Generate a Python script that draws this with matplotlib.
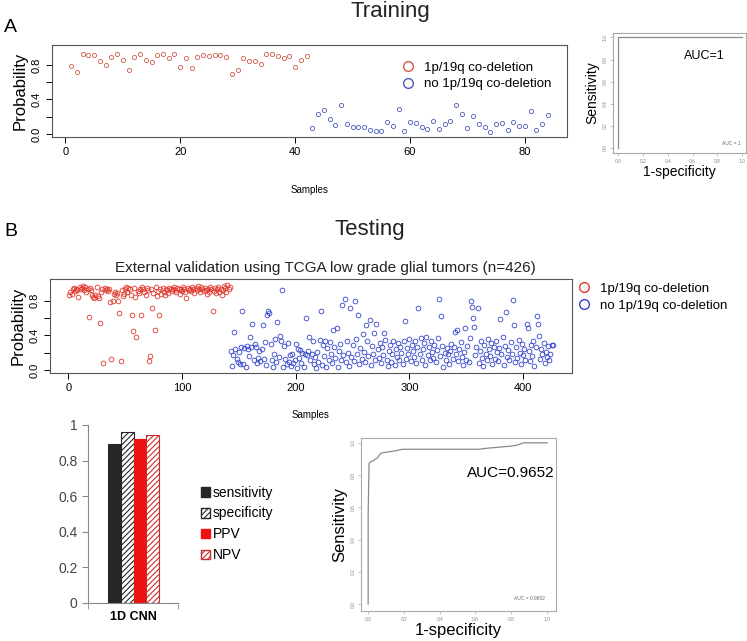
import numpy as np
import matplotlib
matplotlib.use("Agg")
import matplotlib.pyplot as plt
from matplotlib.patches import Patch
from matplotlib.lines import Line2D

plt.rcParams['font.family'] = ['Liberation Sans', 'DejaVu Sans']
plt.rcParams['hatch.linewidth'] = 0.8

# ---- data ----
# training: predicted probability per sample
train_pos = [0.79, 0.715, 0.925, 0.91, 0.92, 0.85, 0.80, 0.89, 0.93, 0.86,
             0.74, 0.89, 0.93, 0.855, 0.835, 0.92, 0.93, 0.885, 0.925, 0.775,
             0.875, 0.76, 0.89, 0.92, 0.905, 0.92, 0.91, 0.89, 0.70, 0.735,
             0.88, 0.845, 0.85, 0.815, 0.925, 0.93, 0.90, 0.88, 0.90, 0.775,
             0.86, 0.90]
train_neg = [0.07, 0.235, 0.28, 0.175, 0.105, 0.34, 0.11, 0.085, 0.08, 0.08,
             0.045, 0.04, 0.035, 0.14, 0.095, 0.29, 0.03, 0.14, 0.125, 0.075,
             0.06, 0.15, 0.055, 0.11, 0.155, 0.34, 0.23, 0.065, 0.21, 0.115,
             0.085, 0.025, 0.11, 0.13, 0.045, 0.14, 0.09, 0.09, 0.27, 0.045,
             0.11, 0.22]

# testing (TCGA, n=426)
test_pos = [0.87, 0.90, 0.88, 0.93, 0.95, 0.91, 0.94, 0.92, 0.84, 0.96,
            0.93, 0.95, 0.97, 0.92, 0.96, 0.90, 0.94, 0.61, 0.95, 0.92,
            0.87, 0.84, 0.83, 0.86, 0.96, 0.85, 0.83, 0.54, 0.90, 0.93,
            0.075, 0.95, 0.92, 0.93, 0.91, 0.94, 0.79, 0.13, 0.80, 0.88,
            0.90, 0.86, 0.89, 0.80, 0.66, 0.105, 0.92, 0.85, 0.88, 0.93,
            0.96, 0.90, 0.95, 0.94, 0.87, 0.64, 0.45, 0.95, 0.84, 0.38,
            0.91, 0.89, 0.94, 0.64, 0.96, 0.93, 0.90, 0.87, 0.95, 0.92,
            0.10, 0.16, 0.94, 0.71, 0.89, 0.46, 0.96, 0.85, 0.91, 0.64,
            0.93, 0.88, 0.95, 0.90, 0.86, 0.94, 0.92, 0.89, 0.95, 0.93,
            0.91, 0.94, 0.96, 0.92, 0.90, 0.95, 0.93, 0.88, 0.94, 0.91,
            0.96, 0.93, 0.90, 0.83, 0.95, 0.92, 0.94, 0.91, 0.96, 0.93,
            0.89, 0.95, 0.92, 0.97, 0.94, 0.90, 0.96, 0.93, 0.91, 0.95,
            0.92, 0.88, 0.94, 0.90, 0.96, 0.93, 0.68, 0.91, 0.95, 0.89,
            0.93, 0.96, 0.90, 0.94, 0.86, 0.92, 0.97, 0.95, 0.90, 0.98,
            0.93, 0.96]
test_neg = [0.22, 0.05, 0.17, 0.44, 0.24, 0.13, 0.09, 0.21, 0.07, 0.27,
            0.68, 0.07, 0.25, 0.04, 0.28, 0.24, 0.16, 0.38, 0.26, 0.535,
            0.11, 0.30, 0.26, 0.08, 0.14, 0.22, 0.10, 0.24, 0.52, 0.13,
            0.32, 0.06, 0.64, 0.675, 0.66, 0.30, 0.12, 0.04, 0.19, 0.36,
            0.09, 0.55, 0.15, 0.39, 0.33, 0.92, 0.03, 0.28, 0.13, 0.07,
            0.31, 0.09, 0.17, 0.05, 0.18, 0.08, 0.11, 0.30, 0.02, 0.24,
            0.14, 0.23, 0.08, 0.20, 0.03, 0.19, 0.60, 0.17, 0.22, 0.38,
            0.12, 0.18, 0.33, 0.07, 0.15, 0.02, 0.21, 0.09, 0.35, 0.68,
            0.06, 0.29, 0.16, 0.34, 0.04, 0.25, 0.11, 0.32, 0.19, 0.08,
            0.46, 0.27, 0.14, 0.48, 0.03, 0.22, 0.30, 0.12, 0.745, 0.17,
            0.815, 0.09, 0.33, 0.20, 0.05, 0.71, 0.15, 0.29, 0.10, 0.80,
            0.36, 0.18, 0.64, 0.07, 0.25, 0.13, 0.42, 0.21, 0.09, 0.515,
            0.33, 0.16, 0.575, 0.06, 0.28, 0.19, 0.43, 0.11, 0.535, 0.24,
            0.14, 0.31, 0.08, 0.26, 0.17, 0.425, 0.35, 0.12, 0.05, 0.22,
            0.29, 0.09, 0.18, 0.34, 0.06, 0.24, 0.15, 0.31, 0.11, 0.27,
            0.20, 0.07, 0.33, 0.56, 0.13, 0.25, 0.18, 0.36, 0.10, 0.29,
            0.22, 0.15, 0.34, 0.08, 0.27, 0.715, 0.19, 0.37, 0.12, 0.24,
            0.31, 0.06, 0.38, 0.17, 0.26, 0.11, 0.33, 0.21, 0.14, 0.29,
            0.09, 0.23, 0.37, 0.815, 0.16, 0.62, 0.28, 0.04, 0.20, 0.12,
            0.25, 0.18, 0.07, 0.22, 0.30, 0.13, 0.27, 0.44, 0.19, 0.46,
            0.10, 0.24, 0.32, 0.15, 0.06, 0.21, 0.48, 0.12, 0.28, 0.09,
            0.37, 0.80, 0.73, 0.60, 0.50, 0.17, 0.26, 0.71, 0.08, 0.22,
            0.34, 0.14, 0.05, 0.29, 0.19, 0.11, 0.36, 0.24, 0.16, 0.31,
            0.07, 0.27, 0.13, 0.33, 0.21, 0.10, 0.25, 0.59, 0.18, 0.38,
            0.06, 0.28, 0.67, 0.15, 0.23, 0.11, 0.32, 0.19, 0.81, 0.52,
            0.09, 0.26, 0.14, 0.35, 0.20, 0.07, 0.30, 0.17, 0.24, 0.12,
            0.535, 0.48, 0.22, 0.10, 0.29, 0.16, 0.34, 0.05, 0.27, 0.62,
            0.535, 0.39, 0.13, 0.24, 0.18, 0.31, 0.08, 0.21, 0.15, 0.28,
            0.11, 0.19, 0.29, 0.29]

# ROC curves
train_fpr = [0.0, 0.0, 1.0]
train_tpr = [0.0, 1.0, 1.0]
test_fpr = [0, 0, 0.005, 0.01, 0.02, 0.03, 0.04, 0.05, 0.06, 0.07, 0.09, 0.12,
            0.15, 0.17, 0.19, 0.62, 0.65, 0.70, 0.75, 0.80, 0.83, 0.87, 1.0]
test_tpr = [0, 0.55, 0.87, 0.88, 0.885, 0.89, 0.90, 0.905, 0.92, 0.935, 0.94,
            0.945, 0.95, 0.955, 0.96, 0.96, 0.965, 0.97, 0.975, 0.98, 0.985, 1.0, 1.0]

# performance bars
metrics = ['sensitivity', 'specificity', 'PPV', 'NPV']
metric_vals = [0.895, 0.96, 0.92, 0.945]
model_name = '1D CNN'

# ---- layout helpers (pixel boxes) ----
W, H = 747, 641
fig = plt.figure(figsize=(W / 100, H / 100), dpi=100)


def box(l, t, r, b):
    return [l / W, 1 - b / H, (r - l) / W, (b - t) / H]


def ftext(x, y, s, **kw):
    fig.text(x / W, 1 - y / H, s, **kw)


def r_scatter(ax, pos, neg, c_pos, c_neg, ms):
    n1 = len(pos)
    x1 = np.arange(1, n1 + 1)
    x2 = np.arange(n1 + 1, n1 + len(neg) + 1)
    ax.plot(x1, pos, 'o', mfc='none', mec=c_pos, ms=ms, mew=0.6)
    ax.plot(x2, neg, 'o', mfc='none', mec=c_neg, ms=ms, mew=0.6)
    n = n1 + len(neg)
    pad = 0.04 * (n - 1)
    ax.set_xlim(1 - pad, n + pad)
    ax.set_yticks([0, 0.2, 0.4, 0.6, 0.8])
    ax.set_yticklabels(['0.0', '', '0.4', '', '0.8'], rotation=90, va='center')
    ax.tick_params(labelsize=8, length=4, width=0.7, direction='out')
    for s in ax.spines.values():
        s.set_linewidth(0.8)
        s.set_color('#555555')
    ax.set_ylabel('Probability', fontsize=12, labelpad=3)


def r_roc(ax, fpr, tpr, auc_big, auc_small, lab_fs):
    ax.plot(fpr, tpr, color='#8a8a8a', lw=0.9)
    ax.set_xlim(-0.04, 1.03)
    ax.set_ylim(-0.045, 1.04)
    ticks = [0, 0.2, 0.4, 0.6, 0.8, 1.0]
    ax.set_xticks(ticks)
    ax.set_yticks(ticks)
    ax.set_xticklabels(['%.1f' % t for t in ticks])
    ax.set_yticklabels(['%.1f' % t for t in ticks], rotation=90, va='center')
    ax.tick_params(labelsize=3.5, labelcolor='#888888', color='#aaaaaa',
                   length=2, width=0.5, pad=2)
    for s in ax.spines.values():
        s.set_color('#aaaaaa')
        s.set_linewidth(0.8)
    ax.set_xlabel('1-specificity', fontsize=lab_fs, labelpad=1)
    ax.set_ylabel('Sensitivity', fontsize=lab_fs, labelpad=2)
    ax.text(0.53, 0.83, auc_big, fontsize=lab_fs - 1, va='center')
    ax.text(0.99, 0.02, auc_small, fontsize=3.5, color='#666666', ha='right', va='bottom')


# ---- A: training ----
ftext(4, 27, 'A', fontsize=14, va='center')
ftext(390, 12, 'Training', fontsize=16, ha='center', va='center', color='#222222')

ax_a = fig.add_axes(box(52, 45, 567, 137))
r_scatter(ax_a, train_pos, train_neg, '#cf5a4a', '#4a5cb8', 3.0)
ax_a.set_ylim(-0.035, 1.03)
ax_a.set_xticks([0, 20, 40, 60, 80])
ax_a.set_xlabel('Samples', fontsize=7, labelpad=20)
leg_a = [Line2D([], [], ls='none', marker='o', mfc='none', mec='#cf5a4a', ms=7, mew=1.0,
                label='1p/19q co-deletion'),
         Line2D([], [], ls='none', marker='o', mfc='none', mec='#4a5cb8', ms=7, mew=1.0,
                label='no 1p/19q co-deletion')]
ax_a.legend(handles=leg_a, loc='upper left', bbox_to_anchor=(0.655, 0.88), frameon=False,
            fontsize=9.5, handletextpad=0.2, labelspacing=0.35, borderaxespad=0)

ax_ar = fig.add_axes(box(613, 33, 746, 153))
r_roc(ax_ar, train_fpr, train_tpr, 'AUC=1', 'AUC = 1', 10)

# ---- B: testing ----
ftext(4, 232, 'B', fontsize=14, va='center')
ftext(370, 230, 'Testing', fontsize=16, ha='center', va='center', color='#222222')
ftext(325, 268, 'External validation using TCGA low grade glial tumors (n=426)',
      fontsize=11, ha='center', va='center', color='#222222')

ax_b = fig.add_axes(box(50, 279, 572, 373))
r_scatter(ax_b, test_pos, test_neg, '#e0392e', '#3444cc', 3.4)
ax_b.set_ylim(-0.035, 1.05)
ax_b.set_xticks([0, 100, 200, 300, 400])
ax_b.set_xlabel('Samples', fontsize=7, labelpad=12)
leg_b = [Line2D([], [], ls='none', marker='o', mfc='none', mec='#e0392e', ms=7, mew=1.0,
                label='1p/19q co-deletion'),
         Line2D([], [], ls='none', marker='o', mfc='none', mec='#3444cc', ms=7, mew=1.0,
                label='no 1p/19q co-deletion')]
fig.legend(handles=leg_b, loc='upper left', bbox_to_anchor=(566 / W, 1 - 277 / H), frameon=False,
           fontsize=9.5, handletextpad=0.2, labelspacing=0.4, borderaxespad=0)

# bar chart
ax_bar = fig.add_axes(box(88, 425, 178, 603))
bar_faces = ['#262626', 'white', '#ee1111', 'white']
bar_edges = ['#262626', '#262626', '#ee1111', '#c83030']
bar_hatch = [None, '//////', None, '//////']
xb = np.arange(len(metrics))
handles = []
for i in range(len(metrics)):
    ax_bar.bar(xb[i], metric_vals[i], width=1.0, color=bar_faces[i], edgecolor=bar_edges[i],
               hatch=bar_hatch[i], linewidth=0.8)
    handles.append(Patch(facecolor=bar_faces[i], edgecolor=bar_edges[i],
                         hatch=bar_hatch[i], label=metrics[i]))
ax_bar.set_xlim(-2.07, 4.99)
ax_bar.set_ylim(0, 1)
ax_bar.set_yticks([0, 0.2, 0.4, 0.6, 0.8, 1.0])
ax_bar.set_yticklabels(['0', '0.2', '0.4', '0.6', '0.8', '1'])
ax_bar.set_xticks([1.5])
ax_bar.set_xticklabels([model_name], fontweight='bold', fontsize=9)
ax_bar.tick_params(axis='x', length=0, pad=6)
ax_bar.set_xticks([-2.07, 4.99], minor=True)
ax_bar.tick_params(axis='x', which='minor', length=4, color='#888888')
ax_bar.tick_params(axis='y', labelsize=10, labelcolor='#444444', color='#888888', length=4)
for s in ['top', 'right']:
    ax_bar.spines[s].set_visible(False)
for s in ['left', 'bottom']:
    ax_bar.spines[s].set_color('#888888')
fig.legend(handles=handles, loc='upper left', bbox_to_anchor=(195 / W, 1 - 480 / H), frameon=False,
           fontsize=10, handlelength=0.7, handleheight=0.7, handletextpad=0.2,
           labelspacing=0.5, borderaxespad=0)

ax_br = fig.add_axes(box(361, 438, 556, 611))
r_roc(ax_br, test_fpr, test_tpr, 'AUC=0.9652', 'AUC = 0.9652', 12)
ax_br.set_xlim(-0.04, 1.05)
ax_br.set_ylim(-0.043, 1.03)
ax_br.texts[0].set_position((0.55, 0.81))

fig.savefig('out.png', dpi=100)
